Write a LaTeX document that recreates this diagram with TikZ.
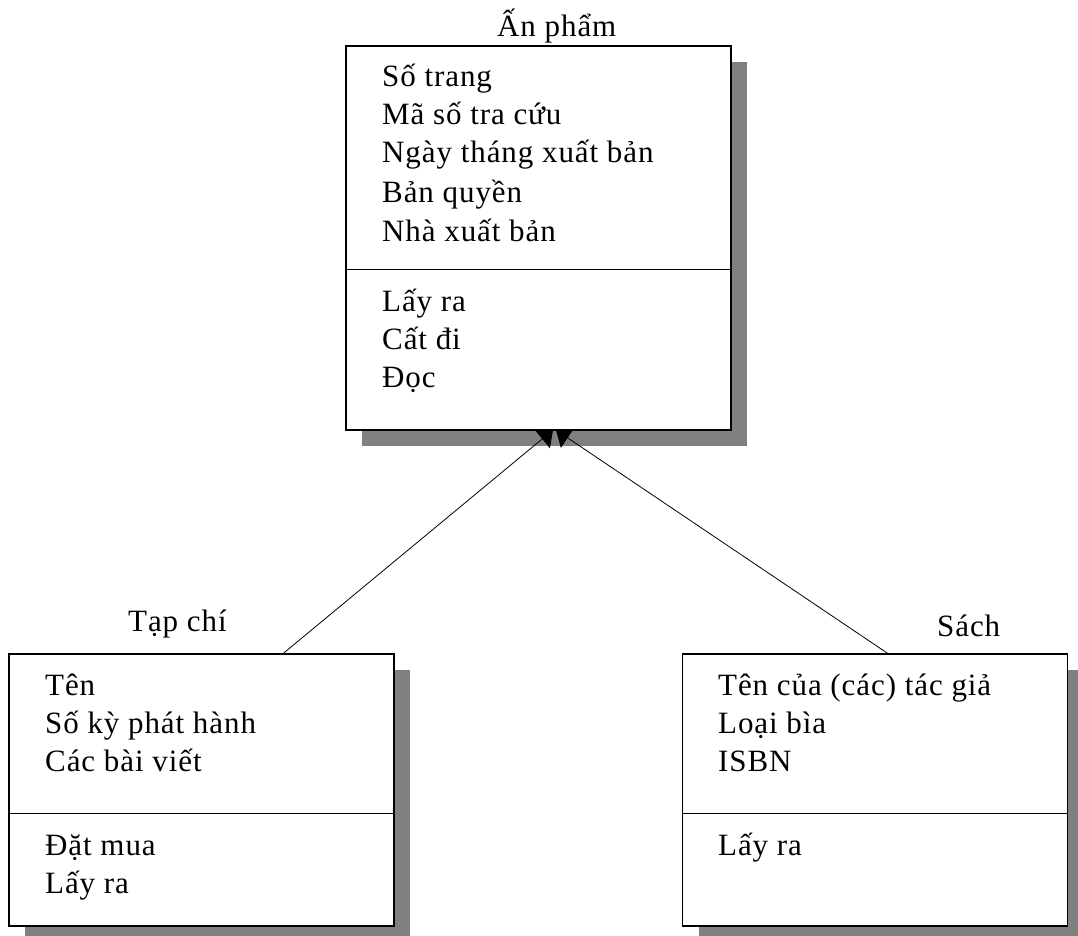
\documentclass[tikz,border=0pt]{standalone}
\usepackage{fontspec}
\setmainfont{Liberation Serif}[LetterSpace=3]
\usetikzlibrary{arrows.meta}
\definecolor{shadowgray}{RGB}{128,128,128}
\tikzset{
  classbox/.style={draw=black, line width=1.2pt, fill=white, rectangle, inner sep=0pt, minimum width=385pt},
  shadowbox/.style={fill=shadowgray, draw=none, rectangle, inner sep=0pt, minimum width=385pt},
  divider/.style={draw=black, line width=1.2pt},
  txt/.style={anchor=base west, inner sep=0pt, font=\fontsize{31}{38}\selectfont},
  conn/.style={draw=black, line width=0.8pt, -{Triangle[length=14pt,width=24pt]}}
}
\begin{document}
\begin{tikzpicture}[x=1pt,y=-1pt]
\useasboundingbox (0,0) rectangle (1078,936);
% shadows
\node[shadowbox, minimum height=384pt] (s1) at (554.5,254) {};
\node[shadowbox, minimum height=272pt] (s2) at (217.5,806) {};
\node[shadowbox, minimum height=272pt] (s3) at (891,806) {};
% class boxes (positions only; drawn after connectors)
\path (538.5,238) coordinate (topc) (201.5,790) coordinate (leftc) (875,790) coordinate (rightc);
\node[minimum width=385pt, minimum height=272pt, inner sep=0pt] (tapchi0) at (leftc) {};
\node[minimum width=385pt, minimum height=272pt, inner sep=0pt] (sach0) at (rightc) {};
\coordinate (tipL) at (553,430);
\coordinate (tipR) at (556,430);
\coordinate (startL) at ([xshift=274pt]tapchi0.north west);
\coordinate (startR) at ([xshift=206pt]sach0.north west);
% connectors
\draw[conn] (startL) -- (tipL);
\draw[conn] (startR) -- (tipR);
% boxes
\node[classbox, minimum height=384pt] (anpham) at (topc) {};
\node[classbox, minimum height=272pt] (tapchi) at (leftc) {};
\node[classbox, minimum height=272pt] (sach) at (rightc) {};
% dividers
\draw[divider] ([yshift=-224pt]anpham.north west) coordinate (d1a) -- ([yshift=-224pt]anpham.north east) coordinate (d1b);
\draw[divider] ([yshift=-160pt]tapchi.north west) coordinate (d2a) -- ([yshift=-160pt]tapchi.north east) coordinate (d2b);
\draw[divider] ([yshift=-160pt]sach.north west) coordinate (d3a) -- ([yshift=-160pt]sach.north east) coordinate (d3b);
% titles
\node[txt] (title1) at (497,37) {Ấn phẩm};
\node[txt] (title2) at (128,631) {Tạp chí};
\node[txt] (title3) at (937,636) {Sách};
% top box
\node[txt] (a1) at (382,87) {Số trang};
\node[txt] (a2) at (382,125) {Mã số tra cứu};
\node[txt] (a3) at (382,163) {Ngày tháng xuất bản};
\node[txt] (a4) at (382,203) {Bản quyền};
\node[txt] (a5) at (382,241) {Nhà xuất bản};
\node[txt] (a6) at (382,311) {Lấy ra};
\node[txt] (a7) at (382,349) {Cất đi};
\node[txt] (a8) at (382,387) {Đọc};
% left box
\node[txt] (b1) at (45,695) {Tên};
\node[txt] (b2) at (45,733) {Số kỳ phát hành};
\node[txt] (b3) at (45,771) {Các bài viết};
\node[txt] (b4) at (45,855) {Đặt mua};
\node[txt] (b5) at (45,893) {Lấy ra};
% right box
\node[txt] (c1) at (718,695) {Tên của (các) tác giả};
\node[txt] (c2) at (718,733) {Loại bìa};
\node[txt] (c3) at (718,771) {ISBN};
\node[txt] (c4) at (718,855) {Lấy ra};
\end{tikzpicture}
\end{document}
